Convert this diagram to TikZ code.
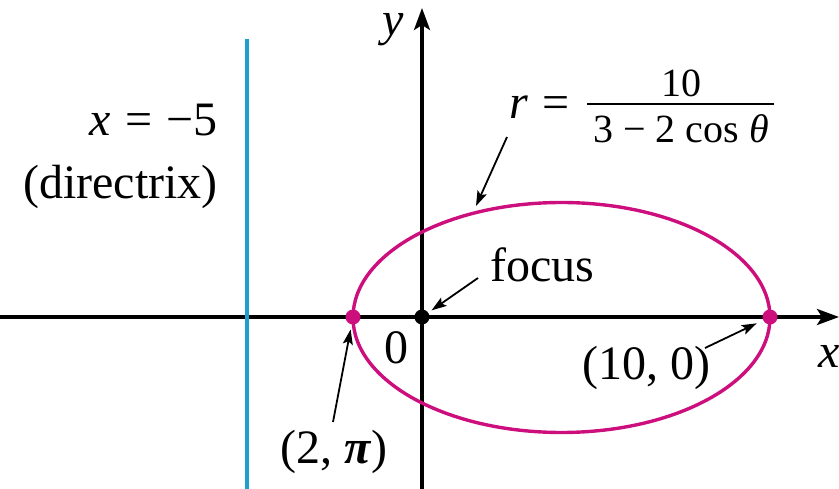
\documentclass[tikz,border=0pt]{standalone}
\usepackage{fontspec}
\setmainfont{Liberation Serif}
\usetikzlibrary{arrows.meta}
\definecolor{ellcol}{RGB}{205,15,125}
\definecolor{dircol}{RGB}{30,160,205}
\tikzset{
  axisline/.style={line width=3.4pt, -{Stealth[length=22pt,width=16pt,inset=5pt]}},
  ptr/.style={line width=1.8pt, -{Stealth[length=15pt,width=10pt,inset=3pt]}},
  lbl/.style={inner sep=0pt, font=\fontsize{48}{56}\selectfont},
  fracpart/.style={inner sep=0pt, font=\fontsize{40}{48}\selectfont},
  dot/.style={circle, inner sep=0pt, minimum size=15pt},
}
\begin{document}
\begin{tikzpicture}[x=1pt,y=-1pt]
\useasboundingbox (0,0) rectangle (839,489);
% axes
\coordinate (xl) at (0,317);
\coordinate (xr) at (839,317);
\coordinate (yb) at (422,489);
\coordinate (yt) at (422,8);
\draw[axisline] (xl) -- (xr);
\draw[axisline] (yb) -- (yt);
% directrix
\coordinate (dt) at (246.5,39);
\coordinate (db) at (246.5,489);
\draw[dircol, line width=4pt] (dt) -- (db);
% ellipse
\draw[ellcol, line width=3.4pt] (561.5,317.5) ellipse [x radius=208.5pt, y radius=115pt];
% points
\node[dot, fill=black] (F) at (422,317) {};
\node[dot, fill=ellcol] (P1) at (353,317) {};
\node[dot, fill=ellcol] (P2) at (770,317) {};
% labels
\node[lbl, anchor=base] (ylbl) at (393,36) {\textit{y}};
\node[lbl, anchor=base west] (xlbl) at (818,367) {\textit{x}};
\node[lbl, anchor=base] (zero) at (396,363) {0};
\node[lbl, anchor=base west] (focus) at (490,282) {focus};
\node[lbl, anchor=base] (p2lbl) at (646,380) {(10, 0)};
\node[lbl, anchor=base] (p1lbl) at (334,463) {(2, \textbf{\textit{π}})};
\node[lbl, anchor=base east] (dirx) at (218,136) {\textit{x}\hspace{0.3em}=\hspace{0.3em}−5};
\node[lbl, anchor=base east] (dirtxt) at (218,199) {(directrix)};
% formula r = 10/(3 - 2 cos theta)
\node[lbl, anchor=base west] (req) at (509,119) {\textit{r}\hspace{0.3em}=};
\node[fracpart, anchor=base] (num) at (681,97) {10};
\node[fracpart, anchor=base] (den) at (681,143) {3 − 2 cos \textit{θ}};
\coordinate (fl) at (587,104);
\coordinate (fr) at (774,104);
\draw[line width=2.4pt] (fl) -- (fr);
% pointer arrows
\coordinate (fa) at (478,278);
\draw[ptr, shorten >=4pt] (fa) -- (F);
\coordinate (ra) at (507,137);
\coordinate (rb) at (476,206);
\draw[ptr] (ra) -- (rb);
\coordinate (pa) at (333,422);
\draw[ptr, shorten >=5pt] (pa) -- (P1);
\coordinate (qa) at (705,348);
\draw[ptr, shorten >=7pt] (qa) -- (P2);
\end{tikzpicture}
\end{document}
